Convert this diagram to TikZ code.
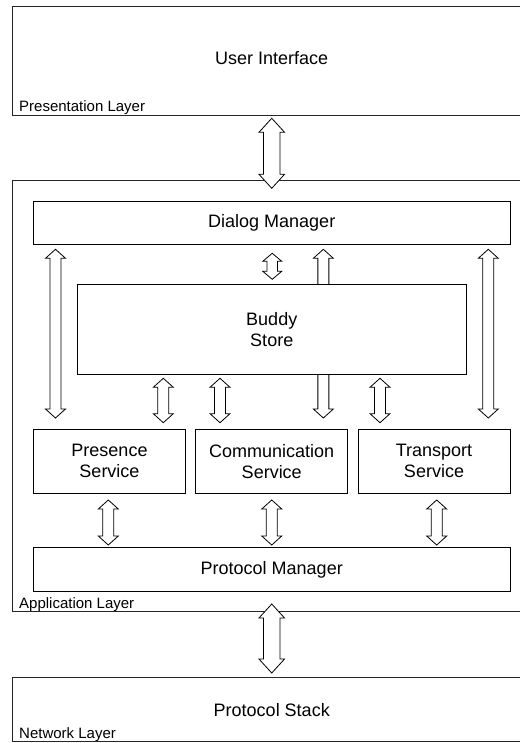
\documentclass[tikz,border=0pt]{standalone}
\usepackage{fontspec}
\setmainfont{Liberation Sans}
\usetikzlibrary{positioning,calc}
\pgfdeclarelayer{background}
\pgfsetlayers{background,main}

% block arrow: head half width, shaft half width, head length, upper tip, lower tip
\newcommand{\blockarrow}[5]{%
  \draw[arrowline] let \p1=(#4), \p2=(#5) in
    (\x1,\y1) -- (\x1+#1pt,\y1-#3pt) -- (\x1+#2pt,\y1-#3pt) -- (\x1+#2pt,\y2+#3pt)
    -- (\x1+#1pt,\y2+#3pt) -- (\x1,\y2) -- (\x1-#1pt,\y2+#3pt) -- (\x1-#2pt,\y2+#3pt)
    -- (\x1-#2pt,\y1-#3pt) -- (\x1-#1pt,\y1-#3pt) -- cycle;}
\newcommand{\bigarrow}[2]{\blockarrow{12.8}{8.2}{14}{#1}{#2}}
\newcommand{\smallarrow}[2]{\blockarrow{10}{5.5}{9}{#1}{#2}}
\newcommand{\tinyarrow}[2]{\blockarrow{9.5}{5.3}{8}{#1}{#2}}

\begin{document}
\begin{tikzpicture}[x=1pt,y=-1pt,
    layerbox/.style={draw=black!85,line width=0.9pt,inner sep=0,outer sep=0,anchor=north west,minimum width=540pt},
    layerlabel/.style={inner sep=0,anchor=base west,font=\fontsize{15}{18}\selectfont},
    box/.style={draw,fill=white,line width=0.9pt,inner sep=0,outer sep=0,align=center,font=\fontsize{18}{21}\selectfont},
    service/.style={box,minimum width=152pt,minimum height=64.3pt},
    arrowline/.style={draw,fill=white,line width=0.8pt,line join=miter}]
  \useasboundingbox (0,0) rectangle (519,743);

  % layers
  \node[layerbox,minimum height=108.5pt] (pres) at (12.5,6.5) {};
  \node[layerbox,minimum height=431.5pt] (app) at (12.5,180) {};
  \node[layerbox,minimum height=64.7pt] (net) at (12.5,677) {};
  \node[layerlabel] (preslabel) at (19,112) {Presentation Layer};
  \node[layerlabel] (applabel) at (19,608.3) {Application Layer};
  \node[layerlabel] (netlabel) at (19,738.3) {Network Layer};
  \node[inner sep=0,anchor=base,font=\fontsize{18}{21}\selectfont] (ui) at (271.75,65) {User Interface};
  \node[inner sep=0,anchor=base,font=\fontsize{18}{21}\selectfont] (stack) at (271.75,716) {Protocol Stack};

  % application components
  \node[box,minimum width=476.5pt,minimum height=42.3pt] (dm) at (271.75,222.85) {Dialog Manager};
  \node[box,minimum width=389.4pt,minimum height=89.7pt,below=40.3pt of dm] (bs) {Buddy\\Store};
  \node[service,below=55pt of bs] (cs) {Communication\\Service};
  \node[service,left=10.25pt of cs] (ps) {Presence\\Service};
  \node[service,right=10.25pt of cs] (ts) {Transport\\Service};
  \node[box,minimum width=476.5pt,minimum height=43.3pt,below=54.4pt of cs] (pm) {Protocol Manager};

  % long arrows pass behind the buddy store
  \begin{pgfonlayer}{background}
    \smallarrow{$(dm.south west)+(22,5.3)$}{$(ps.north west)+(22,-11)$}
    \smallarrow{$(cs.north east |- dm.south)+(-24.4,5.3)$}{$(cs.north east)+(-24.4,-11)$}
    \smallarrow{$(dm.south east)+(-21.7,5.3)$}{$(ts.north east)+(-21.7,-11)$}
  \end{pgfonlayer}

  \bigarrow{$(dm |- pres.south)+(0,3.3)$}{$(dm |- app.north)+(0,8.3)$}
  \tinyarrow{$(dm.south)+(0.5,9.3)$}{$(bs.north)+(0.5,-5)$}
  \smallarrow{$(ps.north east |- bs.south)+(-22.2,4.3)$}{$(ps.north east)+(-22.2,-6.3)$}
  \smallarrow{$(cs.north west |- bs.south)+(24.25,4.3)$}{$(cs.north west)+(24.25,-6.3)$}
  \smallarrow{$(ts.north west |- bs.south)+(22,4.3)$}{$(ts.north west)+(22,-6.3)$}
  \smallarrow{$(ps.south)+(-1.2,6.7)$}{$(ps.south |- pm.north)+(-1.2,-2.7)$}
  \smallarrow{$(cs.south)+(0,6.7)$}{$(pm.north)+(0,-2.7)$}
  \smallarrow{$(ts.south)+(2.7,6.7)$}{$(ts.south |- pm.north)+(2.7,-2.7)$}
  \bigarrow{$(dm |- app.south)+(0,-7.5)$}{$(dm |- net.north)+(0,-4)$}
\end{tikzpicture}
\end{document}
